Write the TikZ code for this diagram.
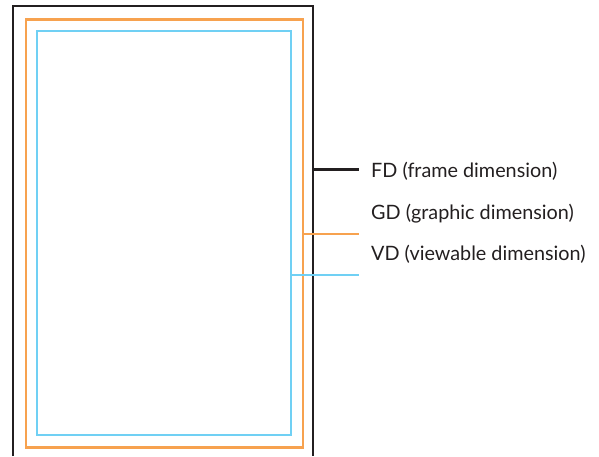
\documentclass[tikz,border=0pt]{standalone}
\usepackage{fontspec}
\setmainfont{Lato}
\definecolor{fdcol}{HTML}{231F20}
\definecolor{gdcol}{HTML}{F7A24F}
\definecolor{vdcol}{HTML}{70D0F4}
\begin{document}
\begin{tikzpicture}[x=1pt,y=-1pt,
  lbl/.style={anchor=base west,inner sep=0pt,font=\fontsize{19.8}{22}\selectfont,text=fdcol},
  fdline/.style={draw=fdcol,line width=2.2pt},
  gdline/.style={draw=gdcol,line width=2.6pt},
  vdline/.style={draw=vdcol,line width=2.2pt}]
\useasboundingbox (0,0) rectangle (599,456);
% frame (open at bottom, runs off the page)
\coordinate (fbl) at (13,456);
\coordinate (ftl) at (13,6);
\coordinate (ftr) at (313,6);
\coordinate (fbr) at (313,456);
\draw[fdline] (fbl) -- (ftl) -- (ftr) -- (fbr);
% graphic dimension
\node[gdline,minimum width=277pt,minimum height=428pt,inner sep=0pt,anchor=north west] (gd) at (24.5,18) {};
% viewable dimension
\node[vdline,minimum width=254pt,minimum height=404.5pt,inner sep=0pt,anchor=north west] (vd) at (36,29.5) {};
% labels
\node[lbl] (fdt) at (371,177.5) {FD (frame dimension)};
\node[lbl] (gdt) at (371,219) {GD (graphic dimension)};
\node[lbl] (vdt) at (371,260.5) {VD (viewable dimension)};
% leader lines
\coordinate (fde) at (359,169.5);
\coordinate (gde) at (359,234);
\coordinate (vde) at (359,275);
\draw[fdline] (ftr |- fde) -- (fde);
\draw[gdline] (gd.east |- gde) -- (gde);
\draw[vdline] (vd.east |- vde) -- (vde);
\end{tikzpicture}
\end{document}
